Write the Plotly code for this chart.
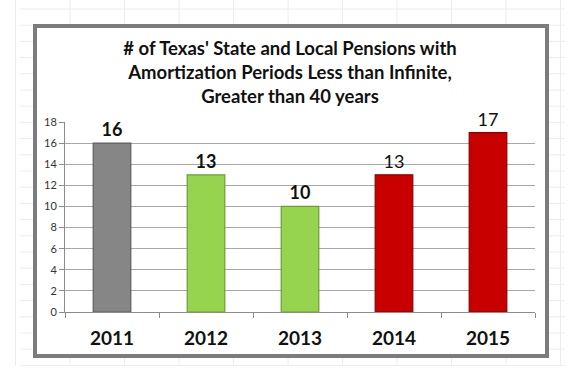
import plotly.graph_objects as go

years = ["2011", "2012", "2013", "2014", "2015"]
counts = [16, 13, 10, 13, 17]
bar_colors = ["#868686", "#96d34f", "#96d34f", "#c80000", "#c80000"]
edge_colors = ["#5e5e5e", "#6f9c35", "#6f9c35", "#8a0000", "#8a0000"]
label_bold = [True, True, True, False, False]
title_text = ("# of Texas' State and Local Pensions with<br>"
              "Amortization Periods Less than Infinite,<br>"
              "Greater than 40 years")

W, H = 577, 392
L, R, T, B = 65, 42, 122, 80
pw, ph = W - L - R, H - T - B

def px_x(x):
    return (x - L) / pw

def px_y(y):
    return (H - B - y) / ph

labels = [f"<b>{v}</b>" if b else str(v) for v, b in zip(counts, label_bold)]

fig = go.Figure()
fig.add_trace(go.Bar(
    x=years, y=counts,
    marker=dict(color=bar_colors, line=dict(color=edge_colors, width=1.2)),
    text=labels, textposition="outside", cliponaxis=False,
    textfont=dict(family="Lato", size=18, color="#111111"),
    width=0.4,
))

shapes = []
# faint spreadsheet grid behind the chart
grid_col = "#ececec"
y = 9
while y < 366:
    shapes.append(dict(type="line", xref="paper", yref="paper", layer="below",
                       x0=px_x(20), x1=px_x(565), y0=px_y(y), y1=px_y(y),
                       line=dict(color=grid_col, width=1)))
    y += 16.2
x = 15.5
while x < 570:
    shapes.append(dict(type="line", xref="paper", yref="paper", layer="below",
                       x0=px_x(x), x1=px_x(x), y0=px_y(0), y1=px_y(366),
                       line=dict(color=grid_col, width=1)))
    x += 54.5
# chart box
shapes.append(dict(type="rect", xref="paper", yref="paper", layer="below",
                   x0=px_x(35), x1=px_x(547), y0=px_y(26), y1=px_y(356),
                   fillcolor="white", line=dict(color="#7c7c7c", width=4)))

fig.update_layout(
    width=W, height=H,
    margin=dict(l=L, r=R, t=T, b=B),
    paper_bgcolor="white", plot_bgcolor="rgba(0,0,0,0)",
    showlegend=False,
    shapes=shapes,
    title=dict(text=title_text, x=290 / W, xanchor="center",
               y=1 - 55 / H, yanchor="middle", yref="container",
               font=dict(family="Lato", size=18.5, color="#111111", weight="bold")),
    font=dict(family="Lato"),
    xaxis=dict(
        type="category", showgrid=False, showline=True, linecolor="#8c8c8c",
        ticks="outside", tickson="boundaries", ticklen=5, tickcolor="#8c8c8c",
        tickfont=dict(family="Lato", size=19, color="#111111", weight="bold"),
        ticklabelstandoff=9,
    ),
    yaxis=dict(
        range=[0, 18], dtick=2, showgrid=True, gridcolor="#a8a8a8", gridwidth=1,
        showline=True, linecolor="#8c8c8c", ticks="outside", ticklen=5,
        tickcolor="#8c8c8c", zeroline=False,
        tickfont=dict(family="Lato", size=11, color="#333333"),
    ),
)

fig.write_html("out.html", config={"displayModeBar": False},
               post_script="document.body.style.margin='0';")
